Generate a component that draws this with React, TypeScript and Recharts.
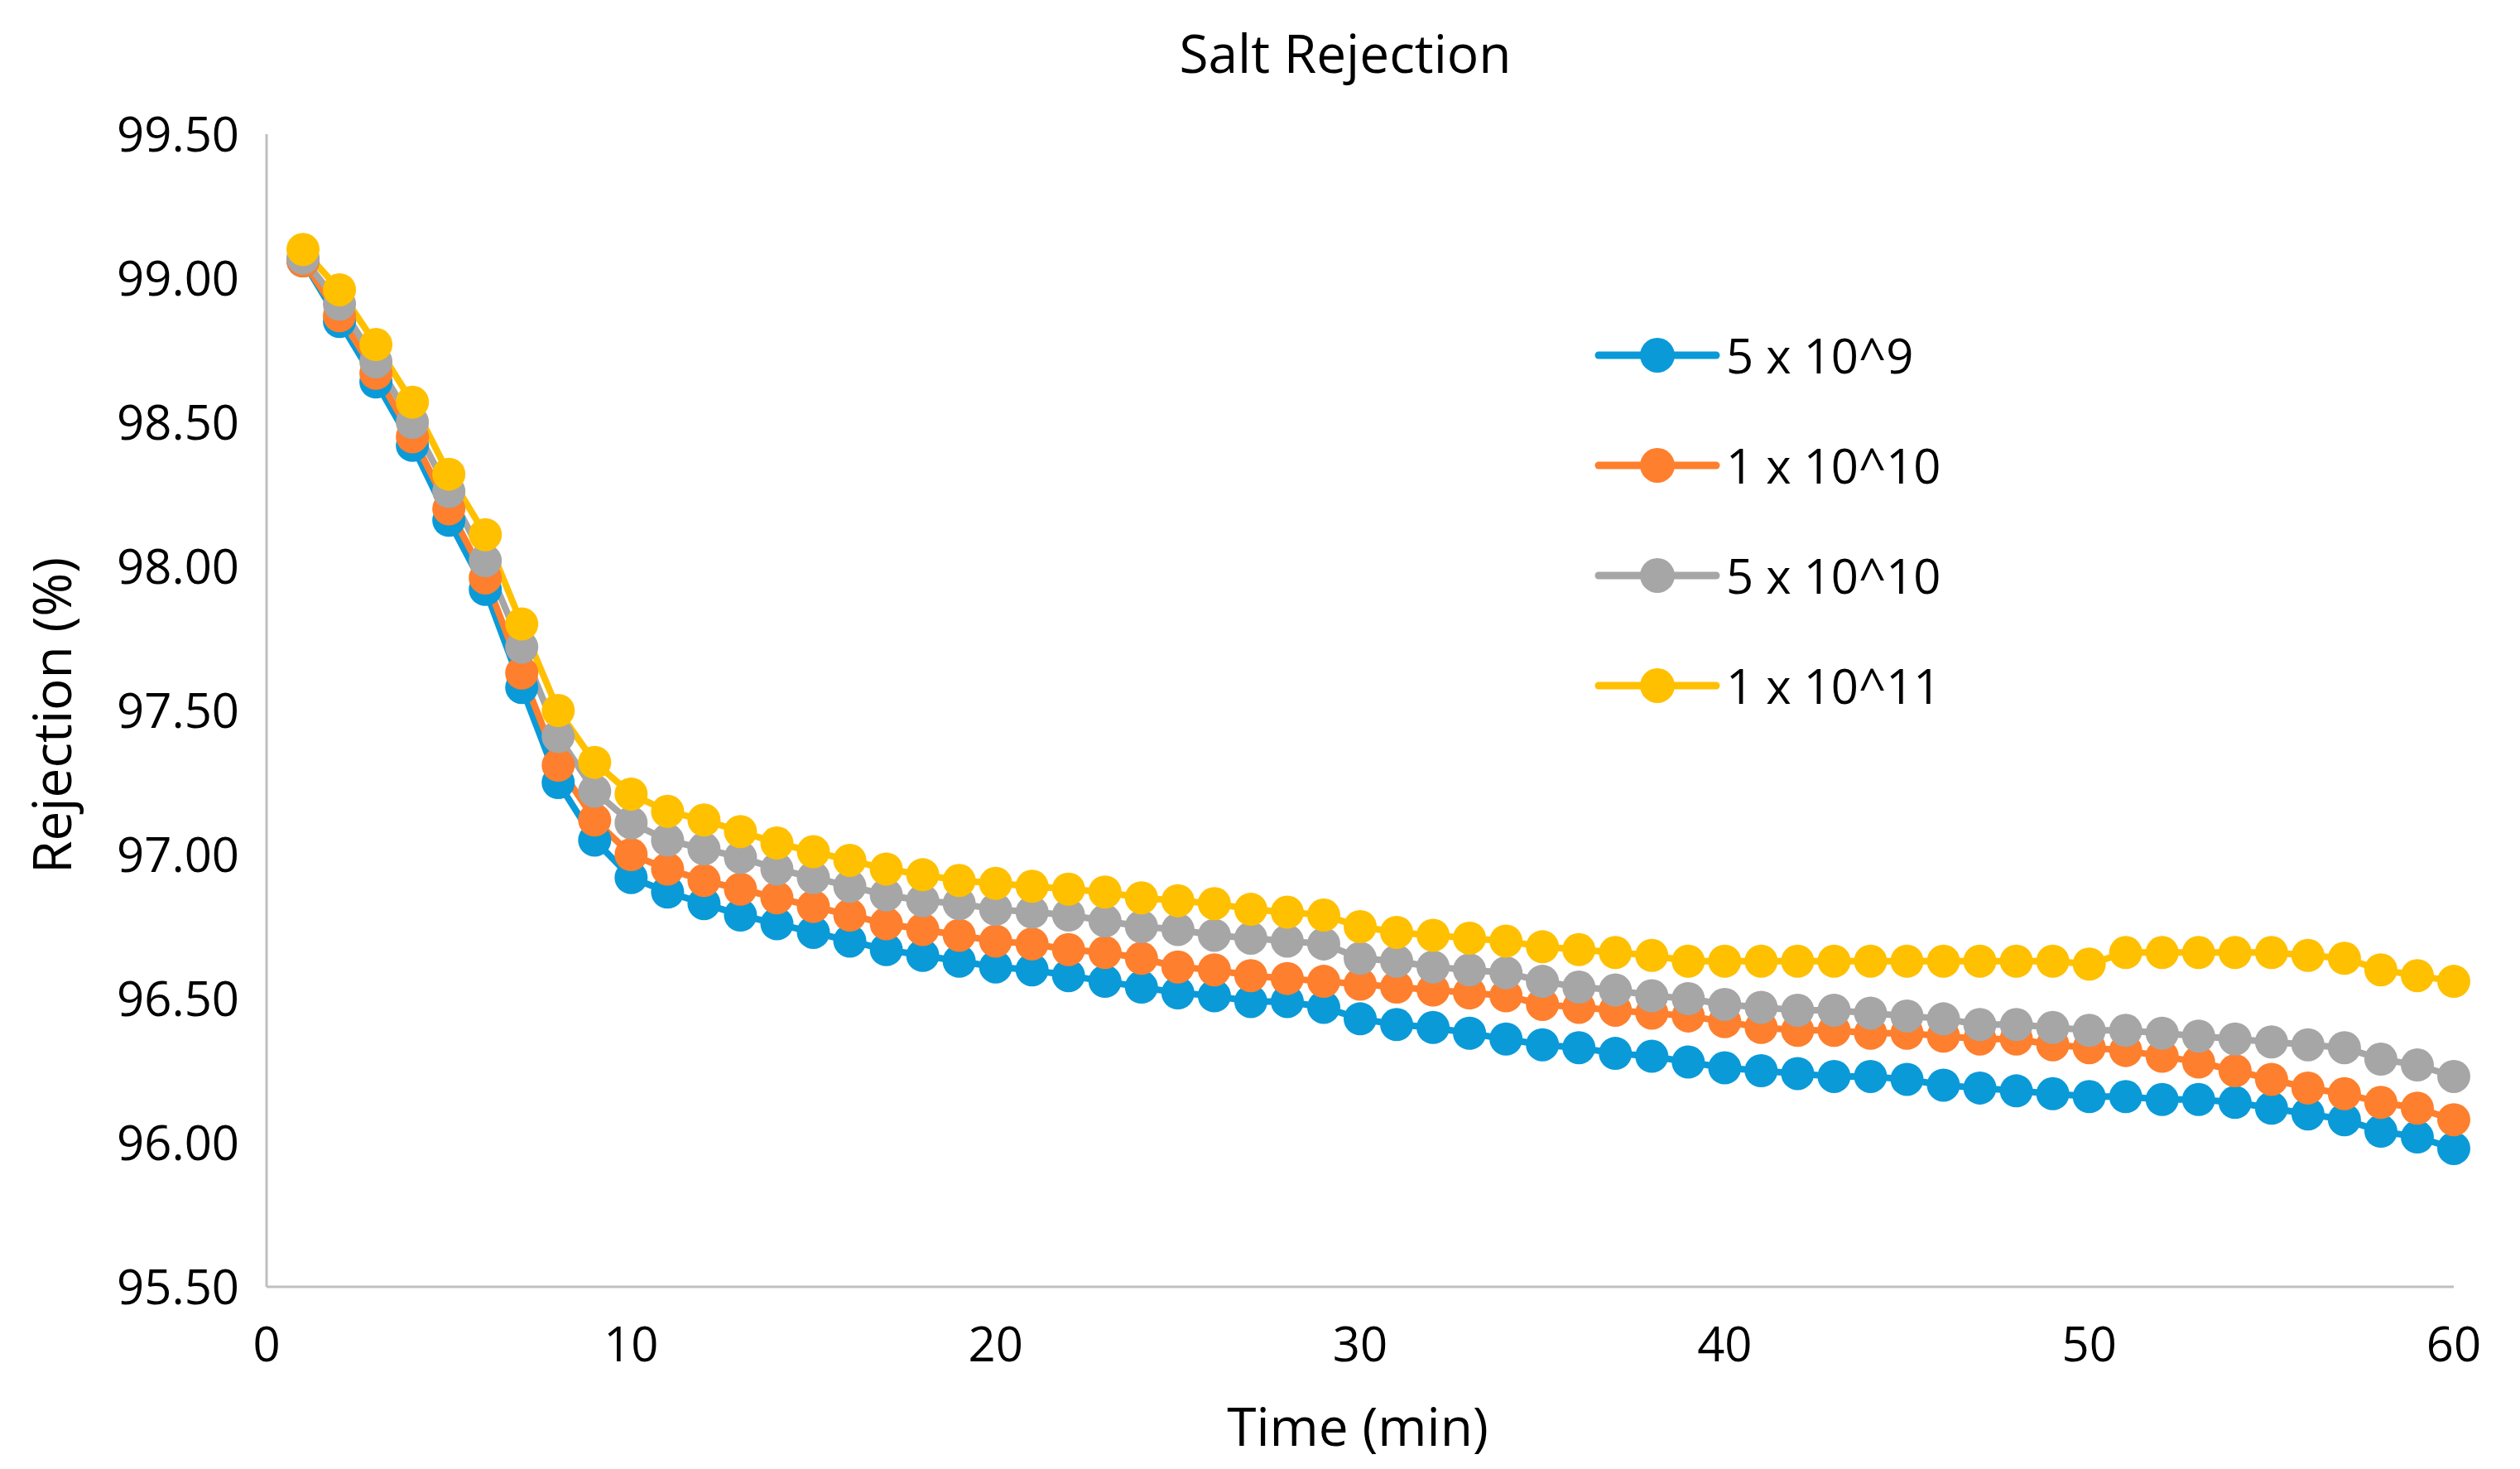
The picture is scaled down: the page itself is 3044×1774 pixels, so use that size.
import React from 'react';
import { LineChart, Line, XAxis, YAxis, Legend } from 'recharts';

const minutes = Array.from({ length: 60 }, (_, i) => i + 1);

const rej5e9 = [
  99.06, 98.85, 98.64, 98.42, 98.16, 97.92, 97.58, 97.25, 97.05, 96.92,
  96.87, 96.83, 96.79, 96.76, 96.73, 96.70, 96.67, 96.65, 96.63, 96.61,
  96.60, 96.58, 96.56, 96.54, 96.52, 96.51, 96.49, 96.49, 96.47, 96.43,
  96.41, 96.40, 96.38, 96.36, 96.34, 96.33, 96.31, 96.30, 96.28, 96.26,
  96.25, 96.24, 96.23, 96.23, 96.22, 96.20, 96.19, 96.18, 96.17, 96.16,
  96.16, 96.15, 96.15, 96.14, 96.12, 96.10, 96.08, 96.04, 96.02, 95.98,
];
const rej1e10 = [
  99.06, 98.87, 98.67, 98.45, 98.20, 97.96, 97.63, 97.31, 97.12, 97.00,
  96.95, 96.91, 96.88, 96.85, 96.82, 96.79, 96.76, 96.74, 96.72, 96.70,
  96.69, 96.67, 96.66, 96.64, 96.61, 96.60, 96.58, 96.57, 96.56, 96.55,
  96.54, 96.53, 96.52, 96.51, 96.48, 96.47, 96.46, 96.45, 96.44, 96.42,
  96.40, 96.39, 96.39, 96.38, 96.38, 96.37, 96.36, 96.36, 96.34, 96.33,
  96.32, 96.30, 96.28, 96.25, 96.22, 96.19, 96.17, 96.14, 96.12, 96.08,
];
const rej5e10 = [
  99.07, 98.91, 98.71, 98.50, 98.26, 98.02, 97.72, 97.41, 97.22, 97.11,
  97.05, 97.02, 96.99, 96.95, 96.92, 96.89, 96.86, 96.84, 96.83, 96.81,
  96.80, 96.79, 96.77, 96.75, 96.74, 96.72, 96.71, 96.70, 96.69, 96.64,
  96.63, 96.61, 96.60, 96.59, 96.56, 96.54, 96.53, 96.51, 96.50, 96.48,
  96.47, 96.46, 96.46, 96.45, 96.44, 96.43, 96.41, 96.41, 96.40, 96.39,
  96.39, 96.38, 96.37, 96.36, 96.35, 96.34, 96.33, 96.29, 96.27, 96.23,
];
const rej1e11 = [
  99.10, 98.96, 98.77, 98.57, 98.32, 98.11, 97.80, 97.50, 97.32, 97.21,
  97.15, 97.12, 97.08, 97.04, 97.01, 96.98, 96.95, 96.93, 96.91, 96.90,
  96.89, 96.88, 96.87, 96.85, 96.84, 96.83, 96.81, 96.80, 96.79, 96.75,
  96.73, 96.72, 96.71, 96.70, 96.68, 96.67, 96.66, 96.65, 96.63, 96.63,
  96.63, 96.63, 96.63, 96.63, 96.63, 96.63, 96.63, 96.63, 96.63, 96.62,
  96.66, 96.66, 96.66, 96.66, 96.66, 96.65, 96.64, 96.60, 96.58, 96.56,
];

const xTicks = [0, 10, 20, 30, 40, 50, 60];
const yTicks = [95.5, 96, 96.5, 97, 97.5, 98, 98.5, 99, 99.5];

const series = [
  { key: 'a', name: '5 x 10^9', color: '#0a9ad8', values: rej5e9 },
  { key: 'b', name: '1 x 10^10', color: '#fe7f2d', values: rej1e10 },
  { key: 'c', name: '5 x 10^10', color: '#a6a6a6', values: rej5e10 },
  { key: 'd', name: '1 x 10^11', color: '#ffc000', values: rej1e11 },
];

const data = minutes.map((t, i) => {
  const row: Record<string, number> = { t };
  series.forEach((s) => {
    row[s.key] = s.values[i];
  });
  return row;
});

const FONT = '"Open Sans", sans-serif';

const renderLegend = () => (
  <div>
    {series.map((s) => (
      <div key={s.key} style={{ display: 'flex', alignItems: 'center', height: 133 }}>
        <svg width={160} height={48}>
          <line x1={6} y1={24} x2={148} y2={24} stroke={s.color} strokeWidth={9} strokeLinecap="round" />
          <circle cx={77} cy={24} r={21} fill={s.color} />
        </svg>
        <span style={{ fontSize: 58, color: '#000', fontFamily: FONT }}>{s.name}</span>
      </div>
    ))}
  </div>
);

export default function App() {
  return (
    <div style={{ position: 'absolute', left: 0, top: 0, width: 3044, height: 1774, background: '#fff', fontFamily: FONT }}>
      <LineChart width={3044} height={1774} data={data} margin={{ top: 162, right: 80, bottom: 0, left: 12 }}>
        <XAxis
          dataKey="t"
          type="number"
          domain={[0, 60]}
          ticks={xTicks}
          height={220}
          tickLine={false}
          tickMargin={43}
          stroke="#bfbfbf"
          strokeWidth={3}
          tick={{ fontSize: 58, fill: '#000', fontFamily: FONT }}
        />
        <YAxis
          type="number"
          domain={[95.5, 99.5]}
          ticks={yTicks}
          width={310}
          tickLine={false}
          tickMargin={27}
          stroke="#bfbfbf"
          strokeWidth={3}
          tickFormatter={(v: number) => v.toFixed(2)}
          tick={{ fontSize: 58, fill: '#000', fontFamily: FONT }}
        />
        <Legend
          layout="vertical"
          verticalAlign="middle"
          align="center"
          content={renderLegend}
          wrapperStyle={{ left: 1925, top: 362, width: 600 }}
        />
        {series.map((s) => (
          <Line
            key={s.key}
            type="linear"
            dataKey={s.key}
            name={s.name}
            stroke={s.color}
            strokeWidth={8}
            dot={{ r: 20, fill: s.color, stroke: s.color, strokeWidth: 0 }}
            activeDot={false}
            isAnimationActive={false}
          />
        ))}
      </LineChart>
      <div style={{ position: 'absolute', left: 1125, width: 1000, top: 20, textAlign: 'center', fontSize: 64, color: '#000' }}>
        Salt Rejection
      </div>
      <div style={{ position: 'absolute', left: 1140, width: 1000, top: 1678, textAlign: 'center', fontSize: 64, color: '#000' }}>
        Time (min)
      </div>
      <div
        style={{
          position: 'absolute',
          left: 62 - 300,
          top: 864 - 45,
          width: 600,
          height: 90,
          lineHeight: '90px',
          textAlign: 'center',
          fontSize: 64,
          color: '#000',
          transform: 'rotate(-90deg)',
        }}
      >
        Rejection (%)
      </div>
    </div>
  );
}
